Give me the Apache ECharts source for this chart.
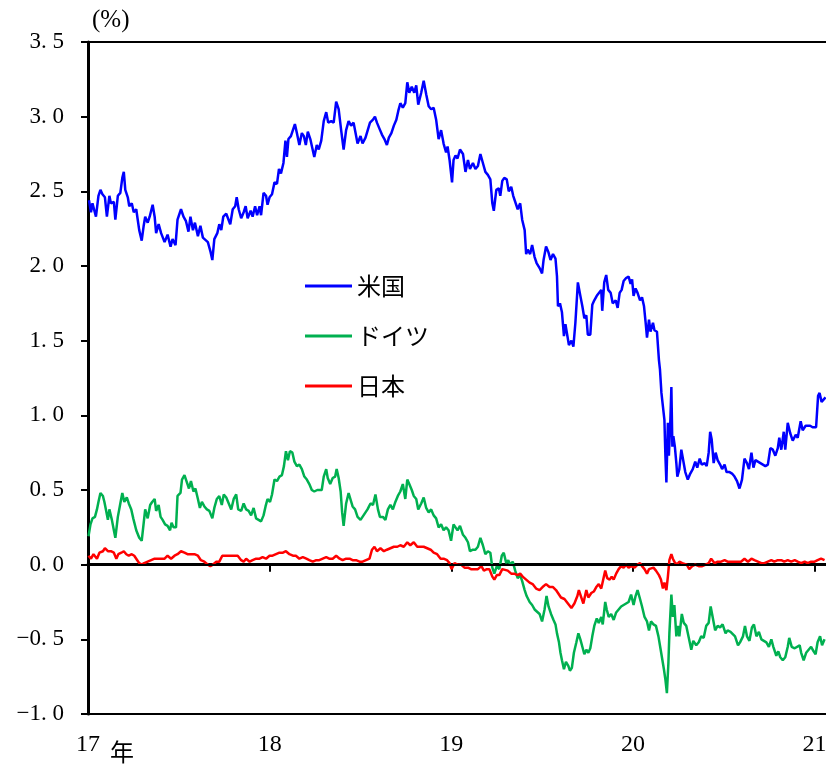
<!DOCTYPE html>
<html><head><meta charset="utf-8">
<script src="https://cdn.jsdelivr.net/npm/echarts@6/dist/echarts.min.js"></script>
<style>html,body{margin:0;padding:0;background:#fff}#c{width:826px;height:767px}</style>
</head><body><div id="c"></div>
<script>
// x values: days since 2017-01-01
const seriesNames = ['米国', 'ドイツ', '日本'];
const yearLabels = ['17', '18', '19', '20', '21'];
const yTicks = [-1.0, -0.5, 0.0, 0.5, 1.0, 1.5, 2.0, 2.5, 3.0, 3.5];

const usDay = [2,6,9,16,21,25,29,34,38,43,
46,52,55,60,65,69,72,75,80,83,
88,92,97,100,103,108,112,115,120,124,
130,134,137,142,147,154,160,166,170,176,
180,187,192,197,202,206,211,215,221,226,
231,235,241,246,250,254,260,264,268,272,
278,282,286,291,296,299,303,308,313,317,
321,327,331,336,340,345,348,353,358,361,
365,370,375,380,384,388,393,397,400,403,
408,412,416,420,425,430,434,438,442,447,
451,455,460,464,469,474,479,483,489,494,
499,504,509,514,519,524,529,534,538,542,
548,552,558,562,567,573,577,581,586,591,
596,601,605,610,615,620,624,628,633,638,
642,646,651,656,660,664,670,675,680,685,
690,695,700,705,710,715,720,723,727,732,
735,739,743,748,754,759,764,768,774,779,
784,789,794,799,804,809,813,816,821,826,
829,833,837,842,846,851,855,859,864,869,
873,878,881,884,889,893,898,902,906,909,
913,916,921,926,930,935,940,943,945,949,
953,957,960,963,967,972,976,980,985,990,
994,998,1002,1005,1010,1014,1018,1023,1027,1032,
1034,1038,1042,1046,1051,1055,1061,1065,1069,1073,
1077,1082,1087,1091,1094,1097,1101,1105,1110,1114,
1118,1121,1124,1128,1131,1136,1139,1144,1148,1150,
1153,1156,1159,1161,1163,1166,1168,1171,1173,1175,
1177,1180,1183,1185,1189,1193,1197,1201,1206,1211,
1216,1221,1225,1230,1234,1240,1244,1248,1251,1254,
1258,1262,1266,1271,1275,1280,1284,1290,1295,1300,
1305,1310,1315,1320,1325,1329,1334,1338,1342,1347,
1352,1357,1362,1367,1372,1377,1382,1387,1390,1394,
1399,1402,1407,1412,1417,1423,1427,1433,1437,1443,
1447,1452,1457,1464,1468,1471,1475,1479,1483];
const usVal = [2.44,2.36,2.42,2.33,2.47,2.51,2.48,2.46,2.33,2.47,
2.42,2.43,2.31,2.47,2.49,2.59,2.63,2.51,2.46,2.40,
2.42,2.36,2.38,2.31,2.24,2.17,2.27,2.33,2.29,2.33,
2.41,2.33,2.22,2.28,2.22,2.16,2.21,2.13,2.18,2.14,
2.31,2.38,2.33,2.30,2.23,2.33,2.24,2.29,2.20,2.27,
2.19,2.20,2.16,2.10,2.04,2.18,2.22,2.28,2.24,2.33,
2.35,2.36,2.28,2.38,2.40,2.46,2.38,2.32,2.36,2.40,
2.32,2.37,2.33,2.40,2.34,2.40,2.34,2.49,2.47,2.41,
2.46,2.48,2.56,2.55,2.65,2.62,2.69,2.84,2.73,2.85,
2.87,2.91,2.95,2.89,2.81,2.89,2.87,2.81,2.90,2.85,
2.79,2.73,2.81,2.78,2.84,2.97,3.03,2.96,2.97,2.96,
3.10,3.05,2.91,2.78,2.91,2.97,2.94,2.96,2.89,2.82,
2.87,2.82,2.86,2.85,2.96,2.98,3.00,2.96,2.92,2.88,
2.85,2.81,2.86,2.89,2.94,2.98,3.04,3.09,3.06,3.09,
3.23,3.16,3.20,3.16,3.21,3.08,3.16,3.24,3.15,3.07,
3.05,3.06,2.98,2.85,2.91,2.82,2.76,2.80,2.71,2.56,
2.71,2.74,2.72,2.78,2.75,2.63,2.71,2.65,2.69,2.65,
2.67,2.75,2.69,2.63,2.61,2.58,2.42,2.37,2.51,2.52,
2.47,2.57,2.59,2.58,2.50,2.53,2.47,2.48,2.38,2.42,
2.31,2.24,2.08,2.11,2.08,2.14,2.06,2.02,2.03,1.98,
1.95,2.04,2.13,2.09,2.04,2.08,2.05,1.93,1.73,1.75,
1.69,1.53,1.61,1.55,1.47,1.50,1.46,1.62,1.89,1.80,
1.73,1.65,1.67,1.54,1.54,1.74,1.77,1.80,1.79,1.84,
1.70,1.89,1.94,1.84,1.82,1.75,1.77,1.72,1.82,1.84,
1.90,1.92,1.93,1.88,1.91,1.80,1.85,1.82,1.77,1.79,
1.73,1.63,1.52,1.64,1.56,1.62,1.57,1.56,1.37,1.31,
1.15,1.06,0.97,0.73,0.55,0.95,0.73,0.97,1.19,0.79,
0.86,0.79,0.68,0.59,0.64,0.77,0.77,0.62,0.57,0.61,
0.64,0.69,0.65,0.71,0.67,0.68,0.66,0.75,0.89,0.84,
0.68,0.75,0.70,0.67,0.64,0.67,0.62,0.62,0.61,0.59,
0.56,0.51,0.57,0.71,0.68,0.64,0.75,0.65,0.70,0.69,
0.68,0.67,0.66,0.67,0.78,0.77,0.73,0.78,0.85,0.77,
0.89,0.77,0.95,0.88,0.83,0.87,0.85,0.96,0.90,0.93,
0.94,0.93,0.92,0.92,1.13,1.15,1.09,1.09,1.12];

const deDay = [1,5,9,14,18,21,25,30,33,36,
40,43,48,52,55,60,65,69,73,78,
82,87,91,97,103,108,112,115,120,125,
129,134,137,142,146,150,155,160,165,168,
172,177,180,186,189,194,198,203,207,212,
216,221,225,229,234,239,244,250,254,259,
264,269,273,278,282,288,293,298,302,308,
313,318,323,328,333,338,343,348,353,357,
361,366,370,375,380,385,390,394,398,402,
406,411,415,420,425,430,435,440,445,450,
455,461,465,470,474,479,482,487,492,497,
500,504,508,511,514,519,524,528,532,537,
542,548,552,558,562,568,573,578,583,587,
593,598,603,608,613,618,623,628,633,638,
642,646,651,655,660,664,670,675,680,685,
690,695,700,705,710,715,720,725,730,735,
739,743,748,754,759,764,768,774,779,784,
789,794,799,804,809,813,817,822,827,832,
836,841,845,849,854,859,864,869,873,878,
882,888,893,898,902,908,913,918,922,926,
931,936,940,943,947,950,953,957,961,966,
969,973,977,982,986,990,994,998,1002,1006,
1010,1014,1018,1023,1027,1032,1035,1040,1043,1047,
1052,1057,1062,1067,1072,1077,1082,1087,1092,1097,
1101,1105,1110,1114,1119,1124,1128,1132,1137,1142,
1147,1151,1155,1158,1161,1164,1167,1169,1173,1176,
1179,1183,1186,1189,1194,1198,1203,1208,1213,1217,
1223,1228,1233,1238,1243,1248,1252,1256,1261,1266,
1271,1276,1282,1286,1292,1296,1301,1307,1311,1317,
1321,1325,1330,1335,1339,1344,1349,1354,1359,1364,
1369,1374,1378,1384,1388,1392,1397,1402,1407,1410,
1415,1421,1425,1431,1434,1439,1444,1449,1454,1459,
1463,1467,1472,1476,1481];
const deVal = [0.19,0.27,0.31,0.32,0.37,0.42,0.48,0.46,0.42,0.37,
0.30,0.37,0.30,0.23,0.18,0.32,0.41,0.48,0.42,0.45,
0.41,0.37,0.31,0.23,0.18,0.16,0.28,0.37,0.31,0.40,
0.42,0.44,0.36,0.40,0.32,0.30,0.27,0.26,0.23,0.28,
0.25,0.25,0.46,0.48,0.57,0.60,0.56,0.51,0.56,0.49,
0.51,0.44,0.38,0.42,0.39,0.37,0.36,0.31,0.38,0.44,
0.46,0.40,0.47,0.45,0.46,0.37,0.44,0.47,0.37,0.36,
0.41,0.37,0.36,0.33,0.38,0.31,0.30,0.29,0.33,0.39,
0.44,0.42,0.47,0.57,0.56,0.59,0.60,0.66,0.76,0.70,
0.76,0.75,0.69,0.66,0.67,0.64,0.59,0.57,0.54,0.50,
0.49,0.50,0.51,0.50,0.59,0.64,0.58,0.54,0.58,0.59,
0.64,0.58,0.49,0.35,0.26,0.41,0.48,0.49,0.39,0.37,
0.32,0.30,0.29,0.35,0.37,0.41,0.40,0.47,0.37,0.32,
0.32,0.30,0.37,0.40,0.37,0.42,0.46,0.49,0.54,0.44,
0.57,0.54,0.50,0.46,0.44,0.37,0.41,0.45,0.38,0.35,
0.37,0.33,0.31,0.25,0.27,0.23,0.25,0.23,0.16,0.27,
0.28,0.23,0.26,0.20,0.18,0.15,0.09,0.10,0.10,0.12,
0.18,0.13,0.07,0.09,0.08,-0.02,-0.06,-0.01,-0.03,0.06,
0.08,0.01,0.03,0.00,0.02,-0.04,-0.09,-0.07,-0.11,-0.17,
-0.21,-0.25,-0.27,-0.30,-0.29,-0.33,-0.38,-0.30,-0.21,-0.28,
-0.33,-0.37,-0.40,-0.46,-0.52,-0.59,-0.64,-0.70,-0.65,-0.68,
-0.71,-0.69,-0.59,-0.52,-0.46,-0.50,-0.55,-0.60,-0.57,-0.59,
-0.56,-0.48,-0.41,-0.36,-0.39,-0.35,-0.40,-0.25,-0.30,-0.35,
-0.33,-0.37,-0.32,-0.30,-0.28,-0.27,-0.26,-0.25,-0.20,-0.27,
-0.21,-0.17,-0.23,-0.28,-0.35,-0.38,-0.44,-0.38,-0.40,-0.41,
-0.48,-0.56,-0.64,-0.70,-0.77,-0.86,-0.66,-0.46,-0.20,-0.35,
-0.27,-0.48,-0.41,-0.48,-0.33,-0.39,-0.41,-0.49,-0.57,-0.51,
-0.54,-0.52,-0.48,-0.49,-0.41,-0.39,-0.28,-0.35,-0.44,-0.41,
-0.42,-0.40,-0.46,-0.44,-0.45,-0.46,-0.48,-0.54,-0.52,-0.48,
-0.41,-0.48,-0.51,-0.42,-0.40,-0.48,-0.45,-0.50,-0.51,-0.52,
-0.55,-0.50,-0.55,-0.61,-0.58,-0.62,-0.64,-0.62,-0.55,-0.49,
-0.55,-0.56,-0.57,-0.54,-0.59,-0.64,-0.59,-0.57,-0.55,-0.58,
-0.60,-0.52,-0.48,-0.54,-0.50];

const jpDay = [1,6,11,18,23,30,34,40,46,52,
57,61,67,72,77,82,88,93,99,103,
108,113,120,127,134,140,147,154,160,167,
174,180,187,194,200,207,214,221,227,234,
241,246,251,258,264,270,274,281,288,294,
301,308,313,318,325,331,338,345,351,358,
365,371,378,385,392,398,405,412,418,425,
432,439,445,452,459,465,472,479,485,492,
499,506,512,519,526,532,539,546,552,559,
566,571,576,581,588,595,601,608,615,622,
628,635,642,648,655,662,668,675,682,689,
695,702,709,715,722,727,731,737,743,750,
757,764,770,777,784,791,796,802,807,813,
817,822,827,833,837,844,851,857,864,869,
874,881,888,894,901,908,914,921,928,935,
941,947,951,958,965,972,978,984,987,992,
996,1002,1006,1012,1017,1022,1027,1032,1036,1040,
1044,1049,1053,1057,1062,1067,1072,1077,1082,1087,
1092,1099,1105,1110,1114,1119,1124,1128,1132,1137,
1142,1148,1152,1156,1159,1163,1166,1169,1173,1176,
1179,1184,1189,1195,1199,1204,1209,1215,1221,1228,
1235,1242,1248,1253,1260,1266,1273,1280,1286,1293,
1300,1307,1313,1320,1327,1334,1340,1347,1354,1360,
1367,1374,1380,1387,1394,1400,1407,1414,1421,1427,
1434,1441,1447,1454,1461,1467,1474,1481];
const jpVal = [0.06,0.04,0.07,0.04,0.08,0.09,0.11,0.09,0.09,0.08,
0.04,0.07,0.08,0.09,0.07,0.06,0.07,0.06,0.03,0.01,
0.00,0.01,0.02,0.03,0.04,0.04,0.04,0.04,0.06,0.04,
0.06,0.07,0.09,0.08,0.07,0.07,0.07,0.06,0.03,0.02,
0.00,-0.01,0.00,0.02,0.02,0.06,0.07,0.06,0.06,0.06,
0.06,0.03,0.02,0.04,0.02,0.03,0.04,0.04,0.05,0.04,
0.06,0.06,0.07,0.08,0.08,0.09,0.07,0.06,0.06,0.04,
0.05,0.04,0.03,0.02,0.03,0.03,0.04,0.05,0.04,0.04,
0.06,0.04,0.03,0.04,0.04,0.03,0.03,0.02,0.02,0.03,
0.04,0.10,0.12,0.09,0.11,0.09,0.10,0.11,0.12,0.12,
0.13,0.12,0.15,0.13,0.15,0.12,0.12,0.12,0.11,0.10,
0.08,0.07,0.04,0.04,0.03,0.01,-0.03,0.01,0.00,0.00,
-0.02,-0.02,-0.03,-0.03,-0.03,-0.01,-0.04,-0.03,-0.03,-0.08,
-0.10,-0.07,-0.07,-0.03,-0.04,-0.04,-0.06,-0.06,-0.07,-0.06,
-0.08,-0.10,-0.12,-0.13,-0.16,-0.17,-0.15,-0.13,-0.15,-0.15,
-0.17,-0.20,-0.22,-0.23,-0.26,-0.29,-0.26,-0.21,-0.17,-0.22,
-0.26,-0.17,-0.22,-0.19,-0.18,-0.15,-0.13,-0.16,-0.10,-0.04,
-0.09,-0.10,-0.08,-0.10,-0.06,-0.03,-0.01,-0.02,0.00,-0.02,
-0.01,-0.02,0.00,0.01,-0.01,-0.03,-0.06,-0.03,-0.04,-0.02,
-0.04,-0.07,-0.10,-0.16,-0.12,-0.17,-0.08,0.03,0.07,0.04,
0.02,0.00,0.02,0.01,0.02,0.00,-0.03,-0.01,0.00,-0.01,
-0.01,0.00,0.01,0.04,0.01,0.02,0.02,0.03,0.02,0.02,
0.02,0.02,0.02,0.04,0.02,0.04,0.03,0.02,0.01,0.01,
0.02,0.03,0.02,0.03,0.03,0.02,0.03,0.02,0.03,0.02,
0.01,0.02,0.01,0.02,0.02,0.03,0.04,0.03];

const DAYS_PER_YEAR = 365.25;
function zip(xs, ys) { const n = Math.min(xs.length, ys.length); const out = []; for (let i = 0; i < n; i++) out.push([xs[i], ys[i]]); return out; }

const chart = echarts.init(document.getElementById('c'), null, {renderer: 'canvas'});
const numFont = 'Liberation Serif';
const jpFont = 'Noto Sans CJK JP';
chart.setOption({
  animation: false,
  backgroundColor: '#fff',
  grid: {left: 88, top: 42, width: 746, height: 672, show: true, borderColor: '#000', borderWidth: 2, backgroundColor: 'transparent',
         containLabel: false, outerBoundsMode: 'none'},
  legend: {
    orient: 'vertical', left: 300, top: 268, itemWidth: 47, itemHeight: 3, itemGap: 24, icon: 'rect',
    data: seriesNames,
    textStyle: {fontFamily: jpFont, fontSize: 24, color: '#000', lineHeight: 26}
  },
  xAxis: {
    type: 'value', min: 0, max: 1500, interval: DAYS_PER_YEAR,
    axisLine: {lineStyle: {color: '#000', width: 3}},
    axisTick: {show: true, inside: false, length: 7, lineStyle: {color: '#000', width: 2}},
    splitLine: {show: false},
    axisLabel: {
      margin: 19, color: '#000', fontFamily: numFont, fontSize: 24,
      formatter: function (v) { const k = v / DAYS_PER_YEAR; const r = Math.round(k); return Math.abs(k - r) < 1e-6 && yearLabels[r] ? yearLabels[r] : ''; }
    }
  },
  yAxis: {
    type: 'value', min: yTicks[0], max: yTicks[yTicks.length - 1], interval: 0.5,
    axisLine: {show: true, lineStyle: {color: '#000', width: 3}},
    axisTick: {show: true, inside: false, length: 7, lineStyle: {color: '#000', width: 2}},
    splitLine: {show: false},
    axisLabel: {
      margin: 24, color: '#000', fontFamily: numFont, fontSize: 23,
      formatter: function (v) { return (v < 0 ? '\u2212' : '') + Math.abs(v).toFixed(1).replace('.', '. '); }
    }
  },
  graphic: [
    {type: 'text', left: 92, top: 8, style: {text: '(%)', font: '25px "' + numFont + '"', fill: '#000'}},
    {type: 'text', left: 110, top: 740, style: {text: '年', font: '24px "' + jpFont + '"', fill: '#000'}}
  ],
  series: [
    {name: seriesNames[0], type: 'line', data: zip(usDay, usVal), showSymbol: false, symbol: 'none', color: '#0000FF',
     lineStyle: {color: '#0000FF', width: 2.5},
     markLine: {silent: true, symbol: ['none', 'none'], label: {show: false}, lineStyle: {color: '#000', width: 2, type: 'solid'}, data: [{yAxis: 0}]}},
    {name: seriesNames[1], type: 'line', data: zip(deDay, deVal), showSymbol: false, symbol: 'none', color: '#00B050',
     lineStyle: {color: '#00B050', width: 2.5}},
    {name: seriesNames[2], type: 'line', data: zip(jpDay, jpVal), showSymbol: false, symbol: 'none', color: '#FF0000',
     lineStyle: {color: '#FF0000', width: 2.5}}
  ]
});
</script>
</body></html>
